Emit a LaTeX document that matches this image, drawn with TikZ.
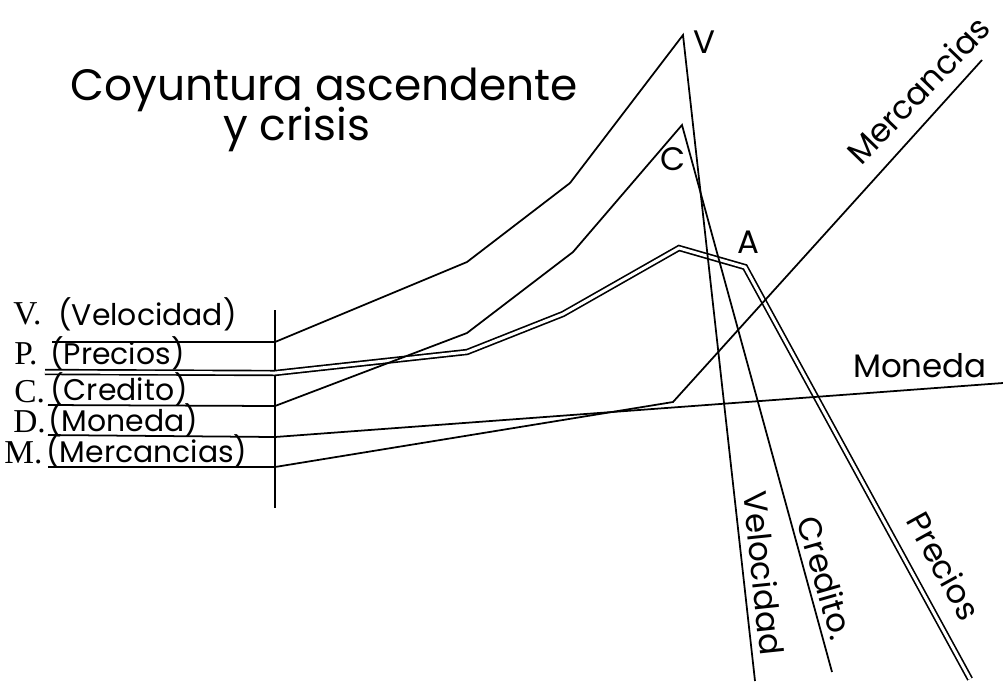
\documentclass[tikz,border=0pt]{standalone}
\usepackage{fontspec}
\setmainfont{Poppins}
\newfontfamily\letraserif{Liberation Serif}
\usepackage{tikz}
\usetikzlibrary{calc}
\tikzset{
	curva/.style={line width=1pt, line join=miter},
	doble/.style={line width=0.95pt, double=white, double distance=1.7pt},
	rotulo/.style={inner sep=0pt, font=\fontsize{17}{19}\selectfont},
	girado/.style={inner sep=0pt, font=\fontsize{18.5}{20}\selectfont},
	sigla/.style={inner sep=0pt, font=\letraserif\fontsize{19}{21}\selectfont},
	titulo/.style={inner sep=0pt, font=\fontsize{25}{30}\selectfont}
}

\begin{document}
\begin{tikzpicture}[x=0.02cm, y=-0.02cm]
			%%%%% START %%%%%
			\useasboundingbox (0, 0) rectangle (1003, 681);
			
			\node[titulo, anchor=base west] (titulo) at (70, 100) {Coyuntura ascendente};
			\node[titulo, anchor=base west] (crisis) at (223, 140) {y crisis};
			
			% eje
			\draw[curva] (275, 310) -- (275, 508);
			
			% precios (doble)
			\draw[doble] (45, 372) -- (275, 373) -- (467, 352) -- (563, 314) -- (679, 248) -- (745, 267) -- (970, 679);
			
			% velocidad
			\draw[curva] (52, 342) -- (275, 342) -- (467, 262) -- (570, 183) -- (683, 35) -- (755, 681);
			% credito
			\draw[curva] (48, 405) -- (275, 406) -- (467, 333) -- (573, 252) -- (682, 125) -- (832, 672);
			% moneda
			\draw[curva] (48, 435) -- (275, 437) -- (1003, 383);
			% mercancias
			\draw[curva] (48, 467) -- (275, 467) -- (673, 402) -- (982, 60);
			
			\node[sigla, anchor=base west] (sv) at (13, 324) {V.};
			\node[rotulo, anchor=base west] (lv) at (58, 325) {(Velocidad)};
			\node[sigla, anchor=base west] (sp) at (14, 364) {P.};
			\node[rotulo, anchor=base west] (lp) at (50, 364) {(Precios)};
			\node[sigla, anchor=base west] (sc) at (14, 402) {C.};
			\node[rotulo, anchor=base west] (lc) at (50, 400) {(Credito)};
			\node[sigla, anchor=base west] (sd) at (13, 432) {D.};
			\node[rotulo, anchor=base west] (ld) at (48, 431) {(Moneda)};
			\node[sigla, anchor=base west] (sm) at (4, 463) {M.};
			\node[rotulo, anchor=base west] (lm) at (46, 462) {(Mercancias)};
			
			\node[girado] (pv) at (704, 42) {V};
			\node[girado] (pc) at (673, 159) {C};
			\node[girado] (pa) at (748, 242) {A};
			
			\node[girado] (tm) at (920, 366) {Moneda};
			\node[girado, rotate=46] (tme) at (918, 90) {Mercancias};
			\node[girado, rotate=-84] (tv) at (764, 573) {Velocidad};
			\node[girado, rotate=-74] (tc) at (826, 578) {Credito.};
			\node[girado, rotate=-61] (tp) at (944, 566) {Precios};
			%%%%% END %%%%%
\end{tikzpicture}
\end{document}
